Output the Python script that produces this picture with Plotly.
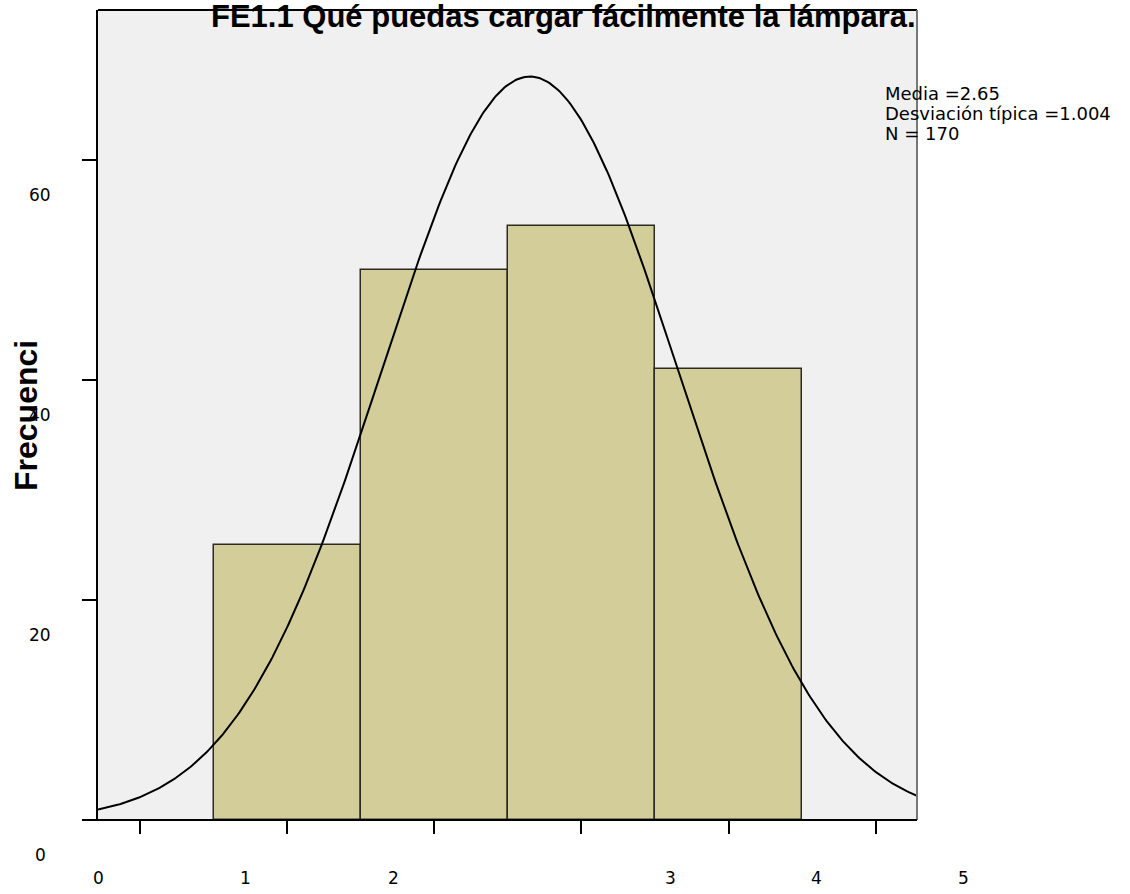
import numpy as np
import plotly.graph_objects as go

# Data
categories = [1, 2, 3, 4]
counts = [25, 50, 54, 41]
mean_val = 2.65
sd_val = 1.004
n_val = 170
x_tick_labels = ["0", "1", "2", "3", "4", "5"]
y_tick_labels = ["0", "20", "40", "60"]
title_text = "FE1.1 Qué puedas cargar fácilmente la lámpara."
y_title = "Frecuenci"

X0, X1 = -0.285, 5.28
Y0, Y1 = 0, 73.6
W, H = 1130, 894
L, R, T, B = 98, 917, 10, 820

fig = go.Figure()
fig.add_trace(go.Bar(
    x=categories, y=counts, width=1.0,
    marker=dict(color="#D3CE99", line=dict(color="#2b2b22", width=1.5)),
    hoverinfo="skip", showlegend=False,
))

# Fitted normal curve (from mean, sd, N)
xc = np.linspace(X0, X1, 400)
yc = n_val * 1.0 / (sd_val * np.sqrt(2 * np.pi)) * np.exp(-0.5 * ((xc - mean_val) / sd_val) ** 2)
fig.add_trace(go.Scatter(x=xc, y=yc, mode="lines", line=dict(color="black", width=2),
                         hoverinfo="skip", showlegend=False))

FONT = "Liberation Sans, Arial, sans-serif"
WFONT = "DejaVu Sans, sans-serif"

def px(xx, yy):
    return (xx - L) / (R - L), (B - yy) / (B - T)

annotations = []
# Title
tx, ty = px(563, 17)
annotations.append(dict(text="<b>" + title_text + "</b>", xref="paper", yref="paper",
                        x=tx, y=ty, xanchor="center", yanchor="middle", showarrow=False,
                        font=dict(family=FONT, size=31, color="black")))
# Stats
stats = ["Media =2.65", "Desviación típica =1.004", "N = 170"]
for i, s in enumerate(stats):
    sx, sy = px(883, 93 + 20 * i)
    annotations.append(dict(text=s, xref="paper", yref="paper", x=sx, y=sy,
                            xanchor="left", yanchor="middle", showarrow=False,
                            font=dict(family=WFONT, size=18, color="black")))
# Y tick labels (offset as in reference)
y_label_pos = [855, 635, 415, 195]
for lab, yy in zip(y_tick_labels, y_label_pos):
    lx, ly = px(40, yy)
    annotations.append(dict(text=lab, xref="paper", yref="paper", x=lx, y=ly,
                            xanchor="center", yanchor="middle", showarrow=False,
                            font=dict(family=WFONT, size=17, color="black")))
# X tick labels (offset as in reference)
x_label_pos = [98, 245, 393, 670, 816, 963]
for lab, xx in zip(x_tick_labels, x_label_pos):
    lx, ly = px(xx, 878)
    annotations.append(dict(text=lab, xref="paper", yref="paper", x=lx, y=ly,
                            xanchor="center", yanchor="middle", showarrow=False,
                            font=dict(family=WFONT, size=17, color="black")))
# Y axis title
ax_, ay_ = px(26, 416)
annotations.append(dict(text="<b>" + y_title + "</b>", xref="paper", yref="paper",
                        x=ax_, y=ay_, xanchor="center", yanchor="middle", showarrow=False,
                        textangle=-90, font=dict(family=FONT, size=32, color="black")))

shapes = [
    dict(type="line", xref="paper", yref="paper", x0=0, x1=1, y0=1, y1=1,
         line=dict(color="black", width=2)),
    dict(type="line", xref="paper", yref="paper", x0=1, x1=1, y0=0, y1=1,
         line=dict(color="#777777", width=2)),
    dict(type="line", xref="paper", yref="paper", x0=(86 - L) / (R - L), x1=1, y0=0, y1=0,
         line=dict(color="black", width=2)),
]

fig.update_layout(
    width=W, height=H,
    margin=dict(l=L, r=W - R, t=T, b=H - B, pad=0),
    paper_bgcolor="white", plot_bgcolor="#F0F0F0",
    bargap=0, showlegend=False,
    annotations=annotations, shapes=shapes,
    xaxis=dict(range=[X0, X1], tickmode="array", tickvals=[0, 1, 2, 3, 4, 5],
               showticklabels=False, ticks="outside", ticklen=13, tickwidth=2, tickcolor="black",
               showgrid=False, zeroline=False, showline=False),
    yaxis=dict(range=[Y0, Y1], tickmode="array", tickvals=[0, 20, 40, 60],
               showticklabels=False, ticks="outside", ticklen=14, tickwidth=2, tickcolor="black",
               showgrid=False, zeroline=False, showline=True, linecolor="black", linewidth=2),
)

fig.write_html("out.html", config={"displayModeBar": False},
               post_script="document.body.style.margin='0px';document.body.style.overflow='hidden';")
